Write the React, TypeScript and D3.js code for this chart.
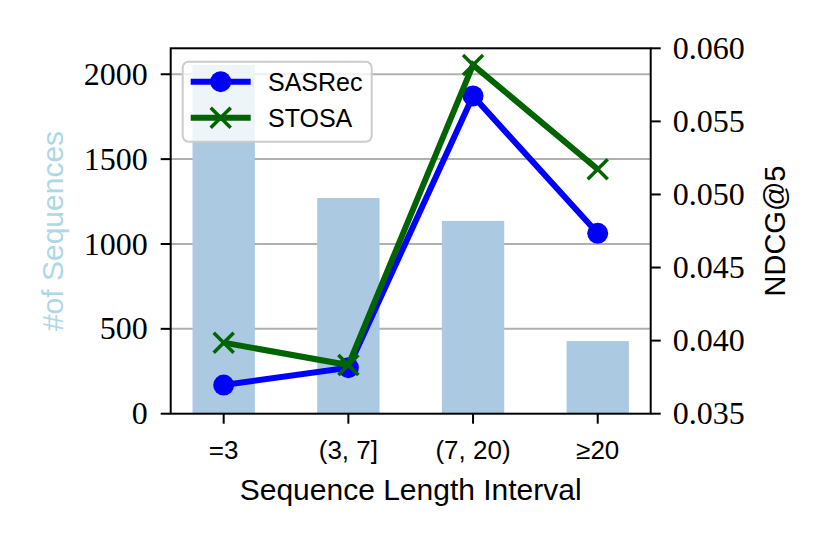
import * as d3 from 'd3';

const categories = ['=3', '(3, 7]', '(7, 20)', '≥20'];
const seqCounts = [2055, 1271, 1136, 428];
const sasrecNdcg = [0.03696, 0.03815, 0.05674, 0.04734];
const stosaNdcg = [0.03986, 0.03833, 0.05886, 0.05172];
const countTicks = [0, 500, 1000, 1500, 2000];
const ndcgTicks = [0.035, 0.04, 0.045, 0.05, 0.055, 0.06];

const W = 830;
const H = 546;
const left = 170.7;
const right = 650.7;
const top = 48.3;
const bottom = 413.7;

const serif = '"Liberation Serif", "DejaVu Serif", serif';
const sans = '"Liberation Sans", Arial, sans-serif';

export default function App() {
  const x = d3.scaleLinear().domain([-0.425, 3.425]).range([left, right]);
  const yCount = d3.scaleLinear().domain([0, 2153]).range([bottom, top]);
  const yNdcg = d3.scaleLinear().domain([0.035, 0.06]).range([bottom, top]);
  const barW = x(0.5) - x(0);

  const line = d3
    .line<number>()
    .x((_, i) => x(i))
    .y((d) => yNdcg(d));

  const xMark = (cx: number, cy: number, r: number, key: string | number) => (
    <g key={key} stroke="#006400" strokeWidth={3.5}>
      <line x1={cx - r} y1={cy - r} x2={cx + r} y2={cy + r} />
      <line x1={cx - r} y1={cy + r} x2={cx + r} y2={cy - r} />
    </g>
  );

  return (
    <svg
      width={W}
      height={H}
      style={{ position: 'absolute', left: 0, top: 0, background: '#fff' }}
    >
      {/* grid from the left axis */}
      {countTicks.slice(1).map((t) => (
        <line
          key={t}
          x1={left}
          x2={right}
          y1={yCount(t)}
          y2={yCount(t)}
          stroke="#b0b0b0"
          strokeWidth={2}
        />
      ))}

      {seqCounts.map((v, i) => (
        <rect
          key={i}
          x={x(i) - barW / 2}
          y={yCount(v)}
          width={barW}
          height={bottom - yCount(v)}
          fill="#abcae2"
        />
      ))}

      <path d={line(sasrecNdcg) ?? ''} fill="none" stroke="#0000ff" strokeWidth={6} />
      {sasrecNdcg.map((v, i) => (
        <circle key={i} cx={x(i)} cy={yNdcg(v)} r={10.5} fill="#0000ff" />
      ))}
      <path d={line(stosaNdcg) ?? ''} fill="none" stroke="#006400" strokeWidth={6} />
      {stosaNdcg.map((v, i) => xMark(x(i), yNdcg(v), 10, i))}

      {/* spines */}
      <rect
        x={left}
        y={top}
        width={right - left}
        height={bottom - top}
        fill="none"
        stroke="#000"
        strokeWidth={2}
      />

      {/* left axis */}
      {countTicks.map((t) => (
        <g key={t}>
          <line x1={left - 10} x2={left} y1={yCount(t)} y2={yCount(t)} stroke="#000" strokeWidth={2} />
          <text
            x={left - 23}
            y={yCount(t)}
            dy="0.33em"
            textAnchor="end"
            fontFamily={serif}
            fontSize={32}
          >
            {t}
          </text>
        </g>
      ))}
      <text
        transform={`translate(52, ${(top + bottom) / 2}) rotate(-90)`}
        textAnchor="middle"
        dy="0.35em"
        fontFamily={sans}
        fontSize={30}
        fill="#add8e6"
      >
        #of Sequences
      </text>

      {/* right axis */}
      {ndcgTicks.map((t) => (
        <g key={t}>
          <line x1={right} x2={right + 10} y1={yNdcg(t)} y2={yNdcg(t)} stroke="#000" strokeWidth={2} />
          <text
            x={right + 22}
            y={yNdcg(t)}
            dy="0.33em"
            textAnchor="start"
            fontFamily={serif}
            fontSize={32}
          >
            {t.toFixed(3)}
          </text>
        </g>
      ))}
      <text
        transform={`translate(775, ${(top + bottom) / 2}) rotate(-90)`}
        textAnchor="middle"
        dy="0.35em"
        fontFamily={sans}
        fontSize={29}
      >
        NDCG@5
      </text>

      {/* x axis */}
      {categories.map((c, i) => (
        <g key={c}>
          <line x1={x(i)} x2={x(i)} y1={bottom} y2={bottom + 10} stroke="#000" strokeWidth={2} />
          <text x={x(i)} y={459} textAnchor="middle" fontFamily={sans} fontSize={26}>
            {c}
          </text>
        </g>
      ))}
      <text x={(left + right) / 2} y={500} textAnchor="middle" fontFamily={sans} fontSize={30}>
        Sequence Length Interval
      </text>

      {/* legend */}
      <rect
        x={182.7}
        y={61.7}
        width={189}
        height={80}
        rx={6}
        fill="#fff"
        fillOpacity={0.8}
        stroke="#cccccc"
        strokeWidth={2}
      />
      <line x1={190.7} x2={250.7} y1={81.7} y2={81.7} stroke="#0000ff" strokeWidth={6} />
      <circle cx={220.7} cy={81.7} r={10.5} fill="#0000ff" />
      <text x={268} y={81.7} dy="0.36em" fontFamily={sans} fontSize={25}>
        SASRec
      </text>
      <line x1={190.7} x2={250.7} y1={117.7} y2={117.7} stroke="#006400" strokeWidth={6} />
      {xMark(220.7, 117.7, 10, 'lg')}
      <text x={268} y={117.7} dy="0.36em" fontFamily={sans} fontSize={25}>
        STOSA
      </text>
    </svg>
  );
}
